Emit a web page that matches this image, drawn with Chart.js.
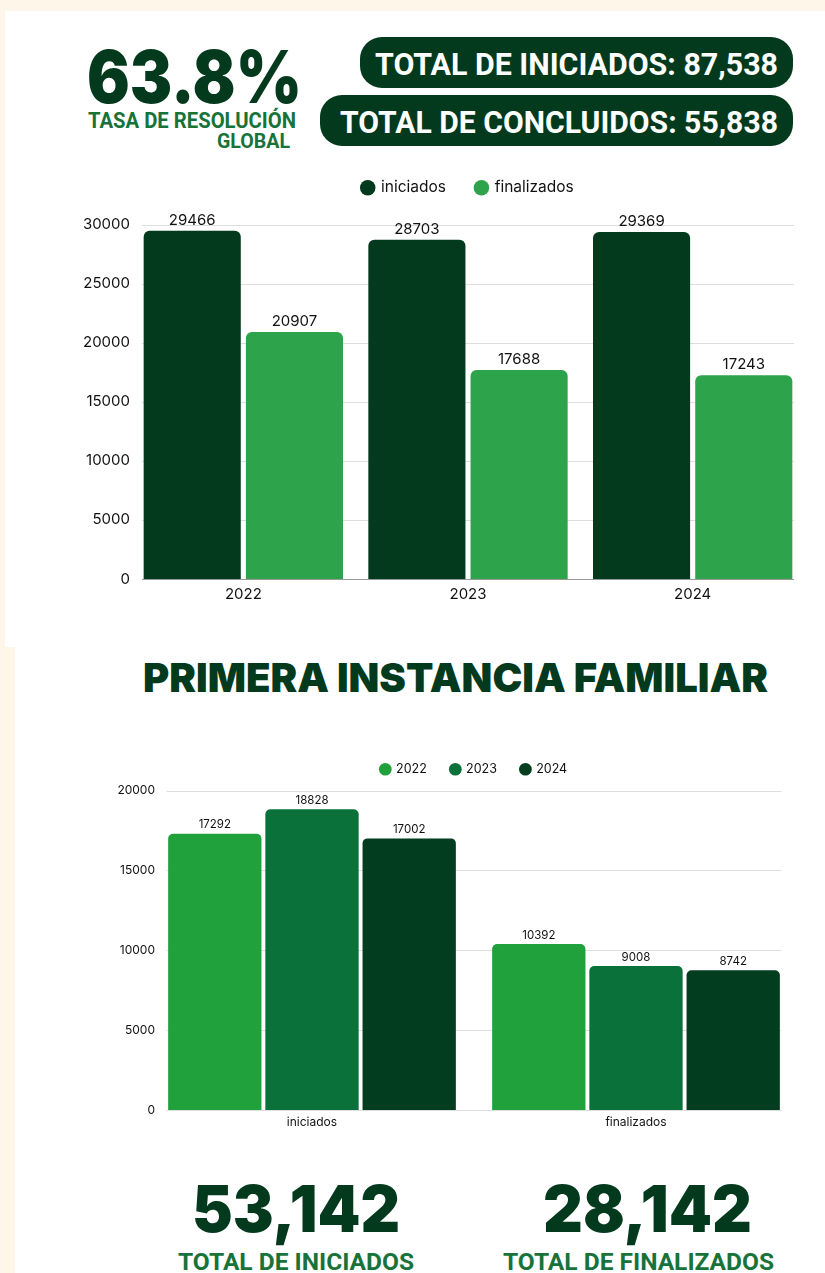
<!DOCTYPE html>
<html>
<head>
<meta charset="utf-8">
<script src="https://cdn.jsdelivr.net/npm/chart.js@4"></script>
<style>
  html, body { margin: 0; padding: 0; }
  body { width: 825px; height: 1273px; background: #fdf6e9; position: relative; overflow: hidden; font-family: Inter, sans-serif; }
  .panel { position: absolute; background: #fff; }
  .pill { position: absolute; background: #033a1d; border-radius: 22px; }
  .t { position: absolute; white-space: nowrap; line-height: 1; transform-origin: left top; }
  .heavy { color: #033a1d; font-family: Inter, sans-serif; font-weight: 900; }
  .cond { font-family: Roboto, sans-serif; font-weight: 700; }
  .green { color: #17733a; }
  .white { color: #fff; }
  canvas { position: absolute; }
</style>
</head>
<body>
<div class="panel" style="left:5px; top:11px; width:820px; height:636px;"></div>
<div class="panel" style="left:15px; top:647px; width:810px; height:626px;"></div>

<div class="t heavy" data-w="215" style="left:87px; top:40px; font-size:73px;">63.8%</div>
<div class="t cond green" data-w="208" style="left:88px; top:110px; font-size:22px;">TASA DE RESOLUCIÓN</div>
<div class="t cond green" data-w="73" style="left:217px; top:131px; font-size:21px;">GLOBAL</div>

<div class="pill" style="left:360px; top:37px; width:433px; height:51px;"></div>
<div class="pill" style="left:320px; top:95px; width:473px; height:51px;"></div>
<div class="t cond white" data-w="403" style="left:375px; top:48px; font-size:32px;">TOTAL DE INICIADOS: 87,538</div>
<div class="t cond white" data-w="438" style="left:340px; top:106px; font-size:32px;">TOTAL DE CONCLUIDOS: 55,838</div>

<canvas id="c1" style="left:0; top:142px;"></canvas>

<div class="t heavy" data-w="625" style="left:143px; top:658px; font-size:40px;">PRIMERA INSTANCIA FAMILIAR</div>

<canvas id="c2" style="left:0; top:733px;"></canvas>

<div class="t heavy" data-w="208" style="left:192px; top:1176px; font-size:65px;">53,142</div>
<div class="t heavy" data-w="209" style="left:543px; top:1176px; font-size:65px;">28,142</div>
<div class="t cond green" data-w="236" style="left:178px; top:1250px; font-size:24px;">TOTAL DE INICIADOS</div>
<div class="t cond green" data-w="271" style="left:503px; top:1250px; font-size:24px;">TOTAL DE FINALIZADOS</div>

<script>
// grafico 1: por año
const years = ['2022', '2023', '2024']
const iniciados = [29466, 28703, 29369]
const finalizados = [20907, 17688, 17243]

// grafico 2: primera instancia familiar
const tipos = ['iniciados', 'finalizados']
const fam2022 = [17292, 10392]
const fam2023 = [18828, 9008]
const fam2024 = [17002, 8742]

const yTicks1 = [0, 5000, 10000, 15000, 20000, 25000, 30000]
const yTicks2 = [0, 5000, 10000, 15000, 20000]

const font = 'Inter, sans-serif'

// textos grandes: ajustar ancho (fuente condensada no disponible)
document.querySelectorAll('[data-w]').forEach(el => {
    const w = el.getBoundingClientRect().width
    el.style.transform = 'scaleX(' + (+el.dataset.w / w) + ')'
})

// etiquetas encima de las barras
const valueLabels = {
    id: 'valueLabels',
    afterDatasetsDraw(chart, args, opts) {
        const ctx = chart.ctx
        ctx.save()
        ctx.fillStyle = '#111'
        ctx.font = opts.size + 'px ' + font
        ctx.textAlign = 'center'
        ctx.textBaseline = 'bottom'
        chart.data.datasets.forEach((ds, i) => {
            chart.getDatasetMeta(i).data.forEach((el, j) => {
                ctx.fillText(ds.data[j], el.x, el.y - opts.offset)
            })
        })
        ctx.restore()
    }
}

// lineas de grilla que no llegan al borde del area
const insetGrid = {
    id: 'insetGrid',
    beforeDatasetsDraw(chart, args, opts) {
        const y = chart.scales.y
        const a = chart.chartArea
        const ctx = chart.ctx
        ctx.save()
        ctx.lineWidth = 1
        y.ticks.forEach(t => {
            const py = Math.round(y.getPixelForValue(t.value)) + 0.5
            ctx.strokeStyle = t.value === 0 ? opts.baseColor : opts.color
            ctx.beginPath()
            ctx.moveTo(a.left + opts.inset, py)
            ctx.lineTo(a.right - opts.inset, py)
            ctx.stroke()
        })
        ctx.restore()
    }
}

// espacio extra debajo de la leyenda
const legendGap = {
    id: 'legendGap',
    beforeLayout(chart, args, opts) {
        const legend = chart.legend
        if (!legend || legend._gapDone) return
        const fit = legend.fit
        legend.fit = function () {
            fit.call(this)
            this.height += opts.gap
        }
        legend._gapDone = true
    }
}

function makeChart(id, w, h, labels, datasets, ticks, max, cfg) {
    const canvas = document.getElementById(id)
    canvas.width = w
    canvas.height = h
    canvas.style.width = w + 'px'
    canvas.style.height = h + 'px'
    return new Chart(canvas, {
        type: 'bar',
        data: { labels: labels, datasets: datasets },
        plugins: [insetGrid, valueLabels, legendGap],
        options: {
            responsive: false,
            animation: false,
            layout: { padding: cfg.padding },
            datasets: {
                bar: {
                    barPercentage: cfg.barPct,
                    categoryPercentage: cfg.catPct,
                    borderRadius: { topLeft: cfg.radius, topRight: cfg.radius },
                    borderSkipped: 'bottom'
                }
            },
            plugins: {
                legend: {
                    position: 'top',
                    fullSize: false,
                    labels: {
                        usePointStyle: true,
                        pointStyle: 'circle',
                        boxWidth: cfg.legendBox,
                        boxHeight: cfg.legendBox,
                        padding: cfg.legendPad,
                        color: '#111',
                        font: { family: font, size: cfg.legendSize }
                    }
                },
                tooltip: { enabled: false },
                valueLabels: { size: cfg.labelSize, offset: 3 },
                insetGrid: { inset: cfg.inset, color: '#dedede', baseColor: cfg.axisColor },
                legendGap: { gap: cfg.legendGap }
            },
            scales: {
                x: {
                    grid: { display: false, drawTicks: false },
                    border: { display: false },
                    ticks: { color: '#111', padding: cfg.xPad, font: { family: font, size: cfg.tickSize } },
                    afterFit: s => { s.height = cfg.xHeight }
                },
                y: {
                    min: 0,
                    max: max,
                    afterBuildTicks: s => { s.ticks = ticks.map(v => ({ value: v })) },
                    grid: { display: false, drawTicks: false },
                    border: { display: false },
                    ticks: {
                        color: '#111',
                        padding: cfg.yPad,
                        font: { family: font, size: cfg.tickSize },
                        callback: v => String(v)
                    },
                    afterFit: s => {
                        s.width = cfg.yWidth
                        // las etiquetas pueden entrar un poco en el area del grafico
                        s._computeLabelArea = () => undefined
                    }
                }
            }
        }
    })
}

makeChart('c1', 825, 468, years, [
    { label: 'iniciados', data: iniciados, backgroundColor: '#033a1d' },
    { label: 'finalizados', data: finalizados, backgroundColor: '#2da34b' }
], yTicks1, 30000, {
    padding: { left: 0, right: 20, top: 8, bottom: 0 },
    barPct: 0.95, catPct: 0.91, radius: 6, inset: 11,
    legendBox: 11, legendPad: 30, legendSize: 15.5, legendGap: 19,
    labelSize: 15, tickSize: 15, xPad: 6, xHeight: 31, yPad: 1, yWidth: 131,
    axisColor: '#999'
})

makeChart('c2', 825, 401, tipos, [
    { label: '2022', data: fam2022, backgroundColor: '#20a13c' },
    { label: '2023', data: fam2023, backgroundColor: '#0a713a' },
    { label: '2024', data: fam2024, backgroundColor: '#023d20' }
], yTicks2, 20000, {
    padding: { left: 0, right: 27, top: 6, bottom: 0 },
    barPct: 0.96, catPct: 0.9, radius: 5, inset: 16.5,
    legendBox: 9, legendPad: 24, legendSize: 12.5, legendGap: 5,
    labelSize: 11.5, tickSize: 12, xPad: 5, xHeight: 24, yPad: -5, yWidth: 150,
    axisColor: '#dedede'
})
</script>
</body>
</html>
